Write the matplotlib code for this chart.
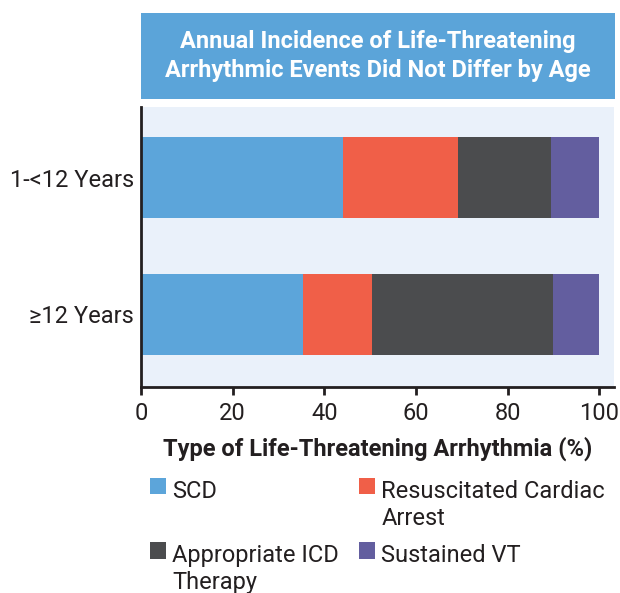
import matplotlib
matplotlib.use("Agg")
import matplotlib.pyplot as plt
from matplotlib.patches import Patch, Rectangle
from matplotlib.legend_handler import HandlerPatch

groups = ["≥12 Years", "1-<12 Years"]
categories = ["SCD", "Resuscitated Cardiac\nArrest", "Appropriate ICD\nTherapy", "Sustained VT"]
# percentage of each arrhythmia type, rows follow `groups`
scd = [35.4, 44.1]
rca = [15.1, 25.0]
icd = [39.4, 20.3]
vt = [10.1, 10.6]
series = [scd, rca, icd, vt]
colors = ["#5CA5DA", "#F05F48", "#4B4C4E", "#635E9F"]

plt.rcParams["font.family"] = ["Roboto", "DejaVu Sans"]
TEXT = "#231F20"
FS = 17

W, H = 620, 593
fig = plt.figure(figsize=(W / 100, H / 100), dpi=100)

# title banner
tax = fig.add_axes([141 / W, 1 - 99 / H, (615 - 141) / W, (99 - 13) / H])
tax.set_facecolor("#5BA4D9")
for s in tax.spines.values():
    s.set_visible(False)
tax.set_xticks([])
tax.set_yticks([])
tax.text(0.5, 0.5, "Annual Incidence of Life-Threatening\nArrhythmic Events Did Not Differ by Age",
         ha="center", va="center", color="white", fontsize=FS, fontweight="bold",
         linespacing=1.28, transform=tax.transAxes)

ax = fig.add_axes([141 / W, 1 - 387 / H, (614 - 141) / W, (387 - 107) / H])
ax.set_facecolor("#EAF1FA")

ypos = list(range(len(groups)))
left = [0.0] * len(groups)
for vals, col in zip(series, colors):
    ax.barh(ypos, vals, left=left, height=0.59, color=col, linewidth=0)
    left = [l + v for l, v in zip(left, vals)]

ax.set_xlim(0, 103.2)
ax.set_ylim(-0.53, 1.515)
ax.set_xticks([0, 20, 40, 60, 80, 100])
ax.set_yticks(ypos)
ax.set_yticklabels(groups)
ax.tick_params(axis="y", length=0, pad=5, labelsize=FS, labelcolor=TEXT)
ax.tick_params(axis="x", length=6, width=2, direction="out", pad=5, labelsize=FS,
               labelcolor=TEXT, color=TEXT)
for side in ["top", "right"]:
    ax.spines[side].set_visible(False)
for side in ["left", "bottom"]:
    ax.spines[side].set_linewidth(2)
    ax.spines[side].set_color(TEXT)
ax.set_xlabel("Type of Life-Threatening Arrhythmia (%)", fontsize=FS, fontweight="bold",
              color=TEXT, labelpad=8)


def top_patch(legend, orig_handle, xdescent, ydescent, width, height, fontsize):
    # sit the square on the first line of a two-line label
    return Rectangle((-xdescent, -ydescent + 0.82 * fontsize), width, height)


# every label gets two lines so rows line up across the columns
labels = [c if "\n" in c else c + "\n " for c in categories]
handles = [Patch(facecolor=c, edgecolor="none") for c in colors]
order = [0, 2, 1, 3]
leg = fig.legend([handles[i] for i in order], [labels[i] for i in order],
                 ncol=2, loc="upper left", bbox_to_anchor=(150 / W, 1 - 480 / H),
                 frameon=False, fontsize=FS, handlelength=0.68, handleheight=0.68,
                 handletextpad=0.25, columnspacing=0.87, labelspacing=0.6,
                 borderpad=0, borderaxespad=0,
                 handler_map={Patch: HandlerPatch(patch_func=top_patch)})
for t in leg.get_texts():
    t.set_color(TEXT)
    t.set_linespacing(1.22)

fig.savefig("out.png", dpi=100)
